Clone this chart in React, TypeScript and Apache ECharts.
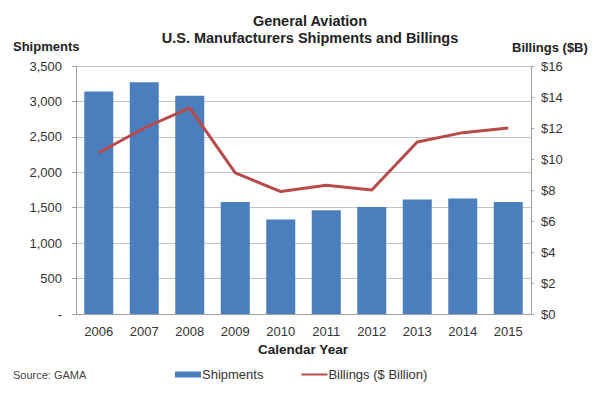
import React, { useEffect, useRef } from "react";
import * as echarts from "echarts";

const years = ["2006", "2007", "2008", "2009", "2010", "2011", "2012", "2013", "2014", "2015"];
const shipments = [3140, 3270, 3080, 1580, 1334, 1465, 1510, 1615, 1630, 1580];
const billings = [10.4, 12.0, 13.3, 9.1, 7.9, 8.3, 8.0, 11.1, 11.7, 12.0];

const FONT = "Liberation Sans, Arial, sans-serif";
const TXT = "#333333";

export default function App() {
  const ref = useRef<HTMLDivElement>(null);
  useEffect(() => {
    if (!ref.current) return;
    const chart = echarts.init(ref.current, undefined, { renderer: "svg" });
    chart.setOption({
      animation: false,
      backgroundColor: "#ffffff",
      textStyle: { fontFamily: FONT },
      title: {
        text: "General Aviation\nU.S. Manufacturers Shipments and Billings",
        left: 310,
        textAlign: "center",
        top: 12,
        padding: 0,
        textStyle: { fontFamily: FONT, fontSize: 14.5, fontWeight: "bold", color: "#222", lineHeight: 17 },
      },
      graphic: [
        { type: "text", x: 13, y: 46, style: { text: "Shipments", font: "bold 13px " + FONT, fill: "#222", verticalAlign: "middle" } },
        { type: "text", x: 512, y: 47, style: { text: "Billings ($B)", font: "bold 13px " + FONT, fill: "#222", verticalAlign: "middle" } },
        { type: "text", x: 303, y: 349, style: { text: "Calendar Year", font: "bold 13.5px " + FONT, fill: "#222", align: "center", verticalAlign: "middle" } },
        { type: "text", x: 13, y: 375, style: { text: "Source: GAMA", font: "11px " + FONT, fill: "#444", verticalAlign: "middle" } },
      ],
      legend: {
        left: 175,
        top: 368,
        padding: 0,
        itemGap: 38,
        itemWidth: 26,
        itemHeight: 6,
        textStyle: { fontFamily: FONT, fontSize: 13, color: TXT, padding: [0, 0, 0, -4] },
        data: [
          { name: "Shipments", icon: "rect" },
          { name: "Billings ($ Billion)", icon: "path://M0 0H26V2H0Z", itemStyle: { color: "#b84a4a" } },
        ],
      },
      grid: { left: 76, right: 69, top: 66, bottom: 85, containLabel: false },
      xAxis: {
        type: "category",
        data: years,
        axisLine: { show: true, lineStyle: { color: "#a0a0a0", width: 1 } },
        axisTick: { show: false },
        axisLabel: { color: TXT, fontSize: 13, fontFamily: FONT, margin: 11 },
      },
      yAxis: [
        {
          type: "value",
          min: 0,
          max: 3500,
          interval: 500,
          axisLine: { show: true, lineStyle: { color: "#a0a0a0" } },
          axisTick: { show: true, length: 4, lineStyle: { color: "#a0a0a0" } },
          splitLine: { show: true, lineStyle: { color: "#c4c4c4", width: 1 } },
          axisLabel: {
            color: TXT,
            fontSize: 13,
            fontFamily: FONT,
            margin: 14,
            formatter: (v: number) => (v === 0 ? "-" : v.toLocaleString("en-US")),
          },
        },
        {
          type: "value",
          min: 0,
          max: 16,
          interval: 2,
          position: "right",
          axisLine: { show: true, lineStyle: { color: "#a0a0a0" } },
          axisTick: { show: true, length: 3, lineStyle: { color: "#a0a0a0" } },
          splitLine: { show: false },
          axisLabel: { color: TXT, fontSize: 13, fontFamily: FONT, margin: 10, formatter: (v: number) => "$" + v },
        },
      ],
      series: [
        {
          name: "Shipments",
          type: "bar",
          data: shipments,
          barWidth: 29,
          itemStyle: { color: "#4a7ebd" },
          yAxisIndex: 0,
        },
        {
          name: "Billings ($ Billion)",
          type: "line",
          data: billings,
          yAxisIndex: 1,
          symbol: "none",
          lineStyle: { color: "#b84a4a", width: 3 },
          itemStyle: { color: "#b84a4a" },
        },
      ],
    });
    return () => chart.dispose();
  }, []);
  return <div ref={ref} style={{ width: 600, height: 399, position: "absolute", left: 0, top: 0 }} />;
}
